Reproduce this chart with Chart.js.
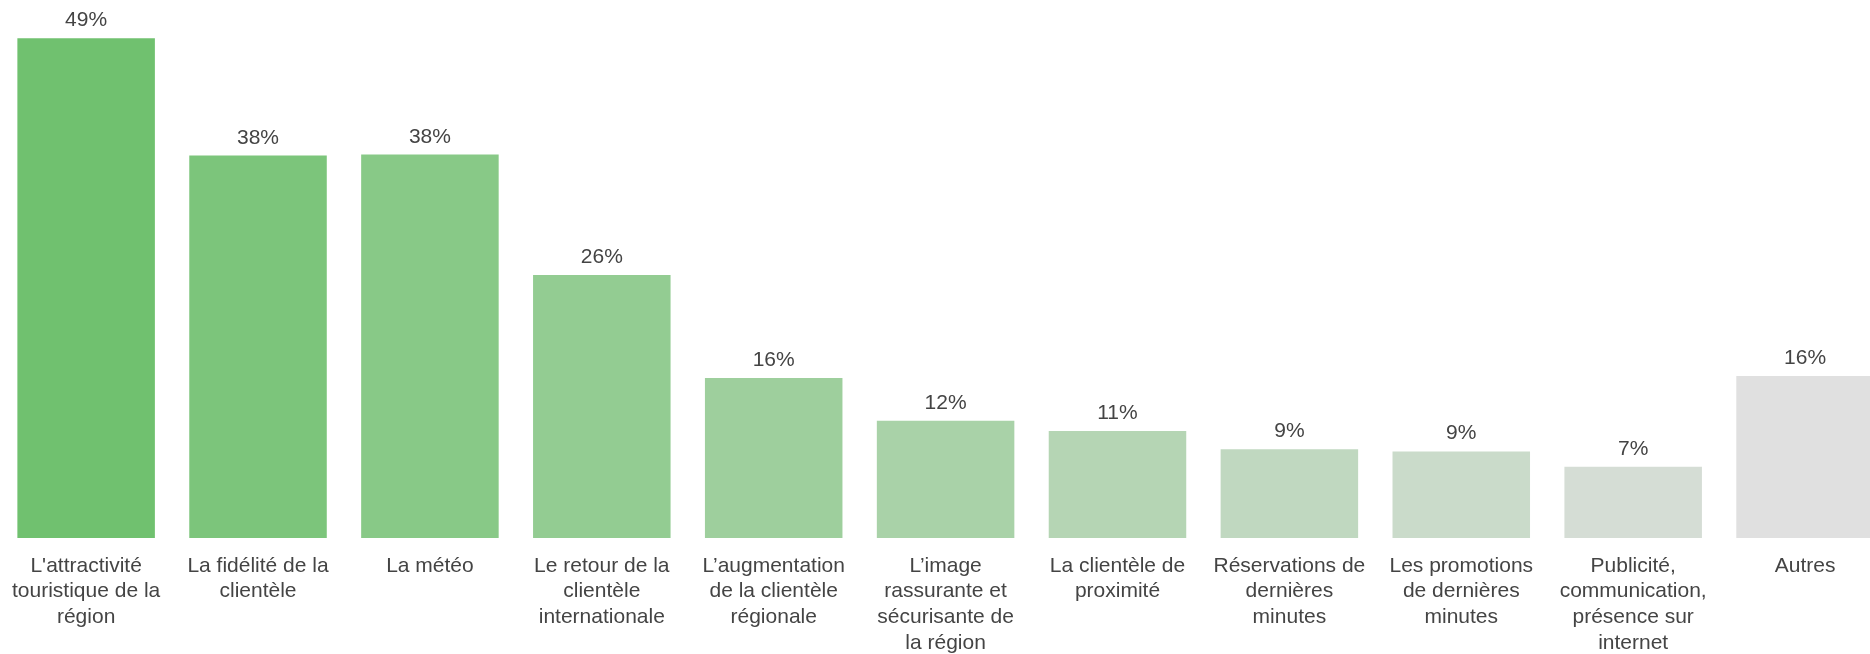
<!DOCTYPE html>
<html lang="fr">
<head>
<meta charset="utf-8">
<title>Facteurs</title>
<script src="https://cdn.jsdelivr.net/npm/chart.js@4.4.0/dist/chart.umd.min.js"></script>
<style>
    html, body { margin: 0; padding: 0; background: #fff; overflow: hidden; }
    .chart-box { position: absolute; left: -3px; top: 0; width: 1894px; height: 671px; }
</style>
</head>
<body>
<div class="chart-box"><canvas id="myChart"></canvas></div>
<script>
(() => {
    "use strict";
    const categories = [
        [ "L'attractivité", "touristique de la", "région" ],
        [ "La fidélité de la", "clientèle" ],
        [ "La météo" ],
        [ "Le retour de la", "clientèle", "internationale" ],
        [ "L’augmentation", "de la clientèle", "régionale" ],
        [ "L’image", "rassurante et", "sécurisante de", "la région" ],
        [ "La clientèle de", "proximité" ],
        [ "Réservations de", "dernières", "minutes" ],
        [ "Les promotions", "de dernières", "minutes" ],
        [ "Publicité,", "communication,", "présence sur", "internet" ],
        [ "Autres" ]
    ];
    const values = [ 49, 37.5, 37.6, 25.8, 15.7, 11.5, 10.5, 8.7, 8.5, 7.0, 15.9 ];
    const barColors = [ "#70c16f", "#7cc57b", "#88c987", "#93cc92", "#9ecf9d", "#a9d2a8", "#b5d5b4", "#c0d8c0", "#cadbca", "#d5ddd5", "#e0e0e0" ];

    const fontFamily = "'Liberation Sans', Arial, sans-serif";
    const textColor = "#444444";

    // simple value labels above each bar
    const valueLabels = {
        id: "valueLabels",
        afterDatasetsDraw(chart) {
            const ctx = chart.ctx;
            const meta = chart.getDatasetMeta(0);
            ctx.save();
            ctx.font = "21px " + fontFamily;
            ctx.fillStyle = textColor;
            ctx.textAlign = "center";
            ctx.textBaseline = "alphabetic";
            meta.data.forEach((bar, i) => {
                ctx.fillText(Math.round(values[i]) + "%", bar.x, bar.y - 12);
            });
            ctx.restore();
        }
    };

    const data = {
        labels: categories,
        datasets: [ {
            label: "",
            data: values,
            backgroundColor: barColors,
            borderWidth: 0,
            barPercentage: 0.8,
            categoryPercentage: 1
        } ]
    };

    const config = {
        type: "bar",
        data,
        plugins: [ valueLabels ],
        options: {
            responsive: true,
            maintainAspectRatio: false,
            animation: false,
            layout: {
                padding: { top: 28, left: 0, right: 0, bottom: 0 }
            },
            plugins: {
                legend: { display: false },
                tooltip: { enabled: false }
            },
            scales: {
                x: {
                    grid: { display: false, drawTicks: false },
                    border: { display: false },
                    ticks: {
                        maxRotation: 0,
                        autoSkip: false,
                        padding: 15,
                        color: textColor,
                        font: { family: fontFamily, size: 21, lineHeight: 1.225 }
                    }
                },
                y: {
                    display: false,
                    min: 0,
                    max: 50
                }
            }
        }
    };

    new Chart(document.getElementById("myChart"), config);
})();
</script>
</body>
</html>
